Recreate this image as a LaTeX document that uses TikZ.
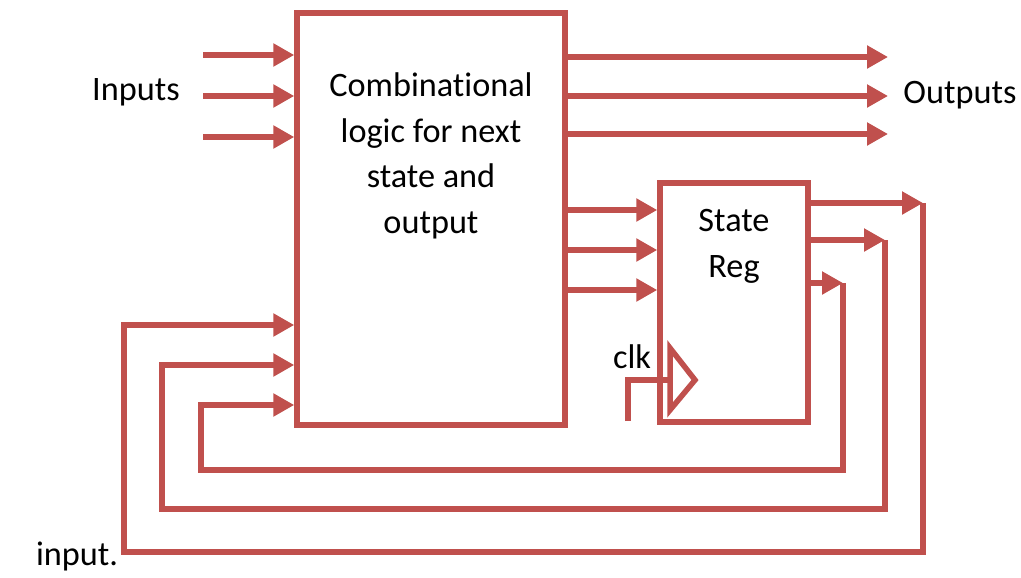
\documentclass[tikz,border=0pt]{standalone}
\usepackage{fontspec}
\setmainfont{Carlito}[Ligatures=NoCommon]
\usetikzlibrary{arrows.meta}
\definecolor{wirered}{HTML}{C0504D}
\tikzset{
  blk/.style = {draw=wirered, line width=5.5*0.02cm, fill=white,
    rectangle, inner sep=0pt},% bloc
  wire/.style = {draw=wirered, line width=5.5*0.02cm},% fil
  lbl/.style = {align=center, inner sep=0pt, text=black,
    font=\fontsize{19.5}{26}\selectfont}% texte
}
\begin{document}
\begin{tikzpicture}[x=0.02cm, y=-0.02cm,
  >={Triangle[length=0.42cm, width=0.44cm]}]
\useasboundingbox (0,0) rectangle (1021,578);
\node [blk, minimum width=5.36cm, minimum height=8.24cm] (comb) at (431,219) {};
\node [lbl] (combtxt) at (431,156) {Combinational\\logic for next\\state and\\output};
\node [blk, minimum width=2.96cm, minimum height=4.78cm] (sr) at (734,302.5) {};
\node [lbl] (srtxt) at (734,246) {State\\Reg};
\node [lbl] (inputs) at (136,92) {Inputs};
\node [lbl] (outputs) at (960,95) {Outputs};
\node [lbl] (clk) at (632,357) {clk};
\node [lbl] (note) at (77,556) {input.};
% entrees et sorties
\foreach \y [count=\i] in {55,96,137} {
  \coordinate (in\i) at (203,\y);
  \draw [wire,->] (in\i) -- (in\i -| comb.west);
}
\foreach \y [count=\i] in {57,96,134} {
  \coordinate (out\i) at (888,\y);
  \draw [wire,->] (out\i -| comb.east) -- (out\i);
}
\foreach \y in {210,250,290}
  \draw [wire,->] (comb.east |- 0,\y) -- (sr.west |- 0,\y);
% horloge
\coordinate (ck0) at (628,421);
\coordinate (ck1) at (670,380);
\draw [wire] (ck0) |- (ck1);
\draw [wire, line join=miter, fill=white] (670,348) -- (695,380) -- (670,410) -- cycle;
% retours
\foreach \ya/\xv/\yb/\xl/\yc [count=\i] in
    {203/923/552/124/325, 240/885/509/162/365, 283/843/470/201/405} {
  \coordinate (fb\i) at (\xv,\ya);
  \coordinate (lp\i) at (\xl,\yb);
  \coordinate (ret\i) at (\xl,\yc);
  \draw [wire,->] (fb\i -| sr.east) -- (fb\i);
  \draw [wire,->] (fb\i) |- (lp\i) -- (ret\i) -- (ret\i -| comb.west);
}
\end{tikzpicture}
\end{document}
